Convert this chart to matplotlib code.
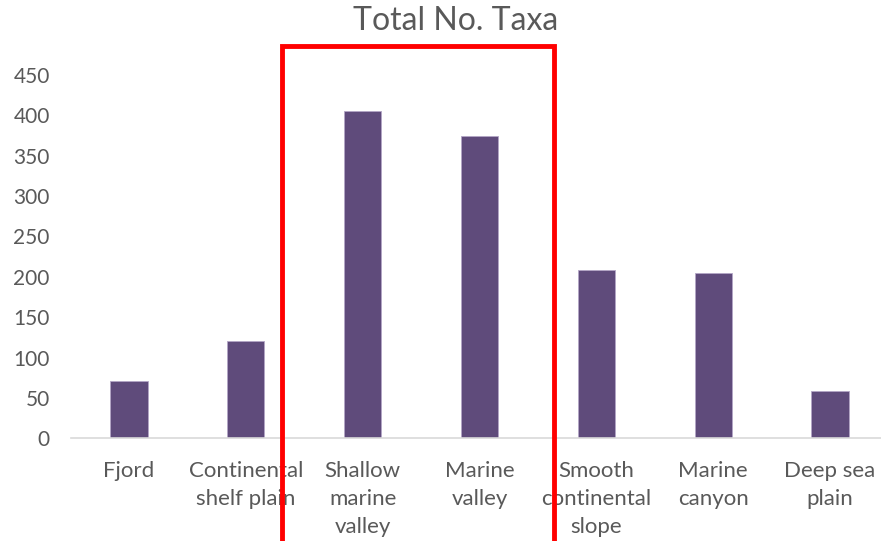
import matplotlib
matplotlib.use("Agg")
import matplotlib.pyplot as plt
from matplotlib.patches import Rectangle

categories = ["Fjord", "Continental\nshelf plain", "Shallow\nmarine\nvalley",
              "Marine\nvalley", "Smooth\ncontinental\nslope", "Marine\ncanyon",
              "Deep sea\nplain"]
taxa = [71, 121, 406, 374, 208, 205, 59]
yticks = [0, 50, 100, 150, 200, 250, 300, 350, 400, 450]

plt.rcParams["font.family"] = ["Lato", "DejaVu Sans"]

W, H = 881, 541
fig = plt.figure(figsize=(W / 100, H / 100), dpi=100)
ax = fig.add_axes([70.6 / W, 1 - 438.3 / H, (888.4 - 70.6) / W, (438.3 - 75) / H])

x = list(range(len(categories)))
ax.bar(x, taxa, width=0.317, color="#5f4b7b", edgecolor="#b3a6c6", linewidth=0.6, zorder=2)

ax.set_xlim(-0.5, len(categories) - 0.5)
ax.set_ylim(0, 450)
ax.set_yticks(yticks)
ax.set_xticks(x)
ax.set_xticklabels(categories, linespacing=1.53, va="top")
ax.tick_params(axis="both", length=0, colors="#595959")
ax.tick_params(axis="y", pad=15, labelsize=15)
ax.tick_params(axis="x", pad=16, labelsize=16)

for side in ("top", "right", "left"):
    ax.spines[side].set_visible(False)
ax.spines["bottom"].set_color("#d9d9d9")
ax.spines["bottom"].set_linewidth(1.2)
ax.spines["bottom"].set_clip_on(False)

fig.text(456 / W, 1 - 21 / H, "Total No. Taxa", ha="center", va="center",
         fontsize=23, color="#595959")

# highlight box around the two valley habitats
box = Rectangle((1.31, -200), 3.64 - 1.31, 486 + 200, fill=False,
                edgecolor="#ff0000", linewidth=3.5, clip_on=False, zorder=5)
ax.add_patch(box)

fig.savefig("out.png", dpi=100)
